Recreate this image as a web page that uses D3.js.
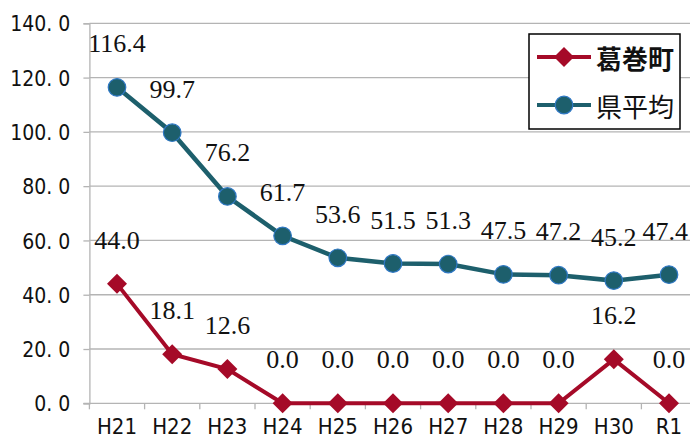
<!DOCTYPE html>
<html>
<head>
<meta charset="utf-8">
<script src="https://cdn.jsdelivr.net/npm/d3@7"></script>
<style>
  html, body { margin: 0; padding: 0; background: #fff; }
  svg { display: block; }
</style>
</head>
<body>
<svg id="chart" width="690" height="439"></svg>
<script>
// 年度
const categories = ["H21", "H22", "H23", "H24", "H25", "H26", "H27", "H28", "H29", "H30", "R1"];
// 葛巻町
const townValues = [44.0, 18.1, 12.6, 0.0, 0.0, 0.0, 0.0, 0.0, 0.0, 16.2, 0.0];
// 県平均
const prefValues = [116.4, 99.7, 76.2, 61.7, 53.6, 51.5, 51.3, 47.5, 47.2, 45.2, 47.4];
const yTicks = [0, 20, 40, 60, 80, 100, 120, 140];
const seriesNames = ["葛巻町", "県平均"];

const RED = "#a50a28";
const TEAL = "#1d5f6c";
const RING = "#2f78c4";
const GRID = "#b4b4b4";
const AXIS_FONT = "'Liberation Sans Narrow', 'DejaVu Sans Condensed', 'Noto Sans CJK JP', sans-serif";
const LABEL_FONT = "'Liberation Serif', 'DejaVu Serif', serif";
const CJK_FONT = "'Noto Sans CJK JP', sans-serif";

const svg = d3.select("#chart");
const W = +svg.attr("width");
const plot = { left: 89.4, right: 696.6, top: 23.3, bottom: 403.3 };

const x = d3.scaleBand().domain(categories).range([plot.left, plot.right]);
const y = d3.scaleLinear().domain([0, 140]).range([plot.bottom, plot.top]);
const cx = d => x(d) + x.bandwidth() / 2;

// horizontal grid
svg.append("g")
  .selectAll("line")
  .data(yTicks.filter(t => t > 0))
  .join("line")
  .attr("x1", plot.left).attr("x2", plot.right)
  .attr("y1", d => y(d)).attr("y2", d => y(d))
  .attr("stroke", GRID).attr("stroke-width", 1.3);

// y axis
const yAxis = svg.append("g")
  .attr("transform", `translate(${plot.left},0)`)
  .call(d3.axisLeft(y).tickValues(yTicks).tickSize(6).tickPadding(13).tickFormat(d3.format(".1f")));
yAxis.select(".domain").attr("stroke", GRID).attr("stroke-width", 1.3);
yAxis.selectAll(".tick line").attr("stroke", GRID).attr("stroke-width", 1.3);
yAxis.selectAll(".tick text")
  .attr("font-family", AXIS_FONT)
  .attr("font-size", 21)
  .attr("fill", "#111")
  .attr("dy", "0.36em")
  .each(function(d) {
    // wide full-stop spacing
    const s = d3.format(".1f")(d).split(".");
    const t = d3.select(this).text(null);
    t.append("tspan").text(s[0] + ".");
    t.append("tspan").attr("dx", 6).text(s[1]);
  });

// x axis
const xAxis = svg.append("g")
  .attr("transform", `translate(0,${plot.bottom})`)
  .call(d3.axisBottom(x).tickSize(0).tickPadding(0));
xAxis.select(".domain").remove();
xAxis.append("line")
  .attr("x1", plot.left - 6).attr("x2", plot.right)
  .attr("stroke", GRID).attr("stroke-width", 1.3);
xAxis.selectAll(".bound")
  .data(categories.concat(["_end"]))
  .join("line")
  .attr("class", "bound")
  .attr("x1", (d, i) => plot.left + i * x.bandwidth())
  .attr("x2", (d, i) => plot.left + i * x.bandwidth())
  .attr("y1", 0).attr("y2", 6)
  .attr("stroke", GRID).attr("stroke-width", 1.3);
xAxis.selectAll(".tick text")
  .attr("font-family", AXIS_FONT)
  .attr("font-size", 22)
  .attr("fill", "#111")
  .attr("y", 31)
  .attr("dy", 0);

const line = d3.line().x((d, i) => cx(categories[i])).y(d => y(d));

// 県平均
svg.append("path")
  .datum(prefValues)
  .attr("d", line)
  .attr("fill", "none")
  .attr("stroke", TEAL)
  .attr("stroke-width", 4.5);
svg.append("g")
  .selectAll("circle")
  .data(prefValues)
  .join("circle")
  .attr("cx", (d, i) => cx(categories[i]))
  .attr("cy", d => y(d))
  .attr("r", 8.8)
  .attr("fill", TEAL)
  .attr("stroke", RING)
  .attr("stroke-width", 1.2);

// 葛巻町
svg.append("path")
  .datum(townValues)
  .attr("d", line)
  .attr("fill", "none")
  .attr("stroke", RED)
  .attr("stroke-width", 4);
const diamond = d3.symbol().type(d3.symbolSquare).size(200);
svg.append("g")
  .selectAll("path")
  .data(townValues)
  .join("path")
  .attr("d", diamond)
  .attr("transform", (d, i) => `translate(${cx(categories[i])},${y(d)}) rotate(45)`)
  .attr("fill", RED);

// value labels, kept inside the drawing's right edge
function labels(values) {
  svg.append("g")
    .selectAll("text")
    .data(values)
    .join("text")
    .attr("x", (d, i) => cx(categories[i]))
    .attr("y", d => y(d) - 35)
    .attr("text-anchor", "middle")
    .attr("font-family", LABEL_FONT)
    .attr("font-size", 26)
    .attr("fill", "#111")
    .text(d => d.toFixed(1))
    .each(function(d, i) {
      const half = this.getComputedTextLength() / 2;
      const c = cx(categories[i]);
      if (c + half > W - 2) d3.select(this).attr("x", W - 2 - half);
    });
}
labels(prefValues);
labels(townValues);

// legend
const lg = svg.append("g");
lg.append("rect")
  .attr("x", 529).attr("y", 34).attr("width", 151).attr("height", 95)
  .attr("fill", "#fff").attr("stroke", "#000").attr("stroke-width", 1.5);
const rows = [
  { name: seriesNames[0], color: RED, y: 57, bold: true, mark: "diamond" },
  { name: seriesNames[1], color: TEAL, y: 105, bold: false, mark: "circle" }
];
rows.forEach(r => {
  lg.append("line")
    .attr("x1", 537).attr("x2", 591).attr("y1", r.y).attr("y2", r.y)
    .attr("stroke", r.color).attr("stroke-width", 4);
  if (r.mark === "diamond") {
    lg.append("path").attr("d", diamond)
      .attr("transform", `translate(564,${r.y}) rotate(45)`)
      .attr("fill", r.color);
  } else {
    lg.append("circle").attr("cx", 564).attr("cy", r.y).attr("r", 8.8)
      .attr("fill", r.color).attr("stroke", RING).attr("stroke-width", 1.2);
  }
  lg.append("text")
    .attr("x", 596).attr("y", r.y)
    .attr("dominant-baseline", "central")
    .attr("font-family", CJK_FONT)
    .attr("font-size", 26)
    .attr("font-weight", r.bold ? 700 : 400)
    .attr("fill", "#111")
    .text(r.name);
});
</script>
</body>
</html>
